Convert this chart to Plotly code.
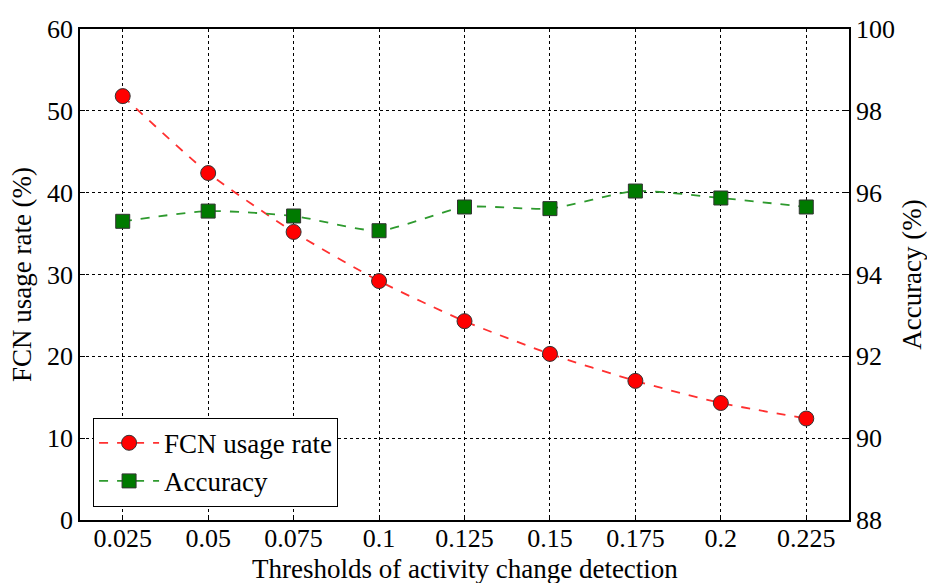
import plotly.graph_objects as go

# Detection thresholds and measured results
thresholds = [0.025, 0.05, 0.075, 0.1, 0.125, 0.15, 0.175, 0.2, 0.225]
tick_labels = ["0.025", "0.05", "0.075", "0.1", "0.125", "0.15", "0.175", "0.2", "0.225"]
fcn_usage = [51.8, 42.4, 35.2, 29.2, 24.3, 20.3, 17.0, 14.3, 12.4]
accuracy = [95.30, 95.55, 95.43, 95.07, 95.65, 95.61, 96.04, 95.87, 95.65]

FONT = "'Liberation Serif', 'Times New Roman', serif"

fig = go.Figure()
fig.add_trace(go.Scatter(
    x=thresholds, y=fcn_usage, name="FCN usage rate",
    mode="lines+markers",
    line=dict(color="#ff3030", width=1.8, dash="dash", shape="spline", smoothing=0.6),
    marker=dict(symbol="circle", size=15, color="#ff0000",
                line=dict(color="#333333", width=1)),
    yaxis="y",
))
fig.add_trace(go.Scatter(
    x=thresholds, y=accuracy, name="Accuracy",
    mode="lines+markers",
    line=dict(color="#2e9a2e", width=1.8, dash="dash", shape="spline", smoothing=0.6),
    marker=dict(symbol="square", size=14, color="#007a00",
                line=dict(color="#333333", width=1)),
    yaxis="y2",
))

# x-axis title placed just below the tick labels, at the bottom edge of the page
fig.add_annotation(
    text="Thresholds of activity change detection",
    x=0.5, xref="paper", y=0, yref="paper",
    xanchor="center", yanchor="top", yshift=-32,
    showarrow=False, font=dict(family=FONT, size=27, color="black"),
)

fig.update_layout(
    width=927, height=583,
    margin=dict(l=80, r=78, t=29, b=63),
    paper_bgcolor="white", plot_bgcolor="white",
    font=dict(family=FONT, size=26, color="black"),
    showlegend=True,
    legend=dict(
        x=0.017, y=0.027, xanchor="left", yanchor="bottom",
        bordercolor="black", borderwidth=1, bgcolor="white",
        font=dict(family=FONT, size=27),
        itemwidth=60, tracegroupgap=4,
    ),
    xaxis=dict(
        range=[0.0125, 0.2375], automargin=False,
        tickvals=thresholds, ticktext=tick_labels,
        tickfont=dict(family=FONT, size=26), ticklabelstandoff=-6,
        showgrid=True, gridcolor="black", gridwidth=1, griddash="dot",
        showline=True, linecolor="black", linewidth=1.5, mirror=True,
        ticks="inside", ticklen=5, tickcolor="black",
        zeroline=False,
    ),
    yaxis=dict(
        range=[0, 60], tickvals=[0, 10, 20, 30, 40, 50, 60], automargin=False,
        tickfont=dict(family=FONT, size=26),
        showgrid=True, gridcolor="black", gridwidth=1, griddash="dot",
        showline=True, linecolor="black", linewidth=1.5,
        ticks="inside", ticklen=5, tickcolor="black",
        zeroline=False,
        title=dict(text="FCN usage rate (%)", font=dict(family=FONT, size=27), standoff=8),
    ),
    yaxis2=dict(
        range=[88, 100], tickvals=[88, 90, 92, 94, 96, 98, 100], automargin=False,
        tickfont=dict(family=FONT, size=26),
        overlaying="y", side="right",
        showgrid=False,
        showline=True, linecolor="black", linewidth=1.5,
        ticks="inside", ticklen=5, tickcolor="black",
        zeroline=False,
        title=dict(text="Accuracy (%)", font=dict(family=FONT, size=27), standoff=8),
    ),
)

fig.write_html("out.html")
